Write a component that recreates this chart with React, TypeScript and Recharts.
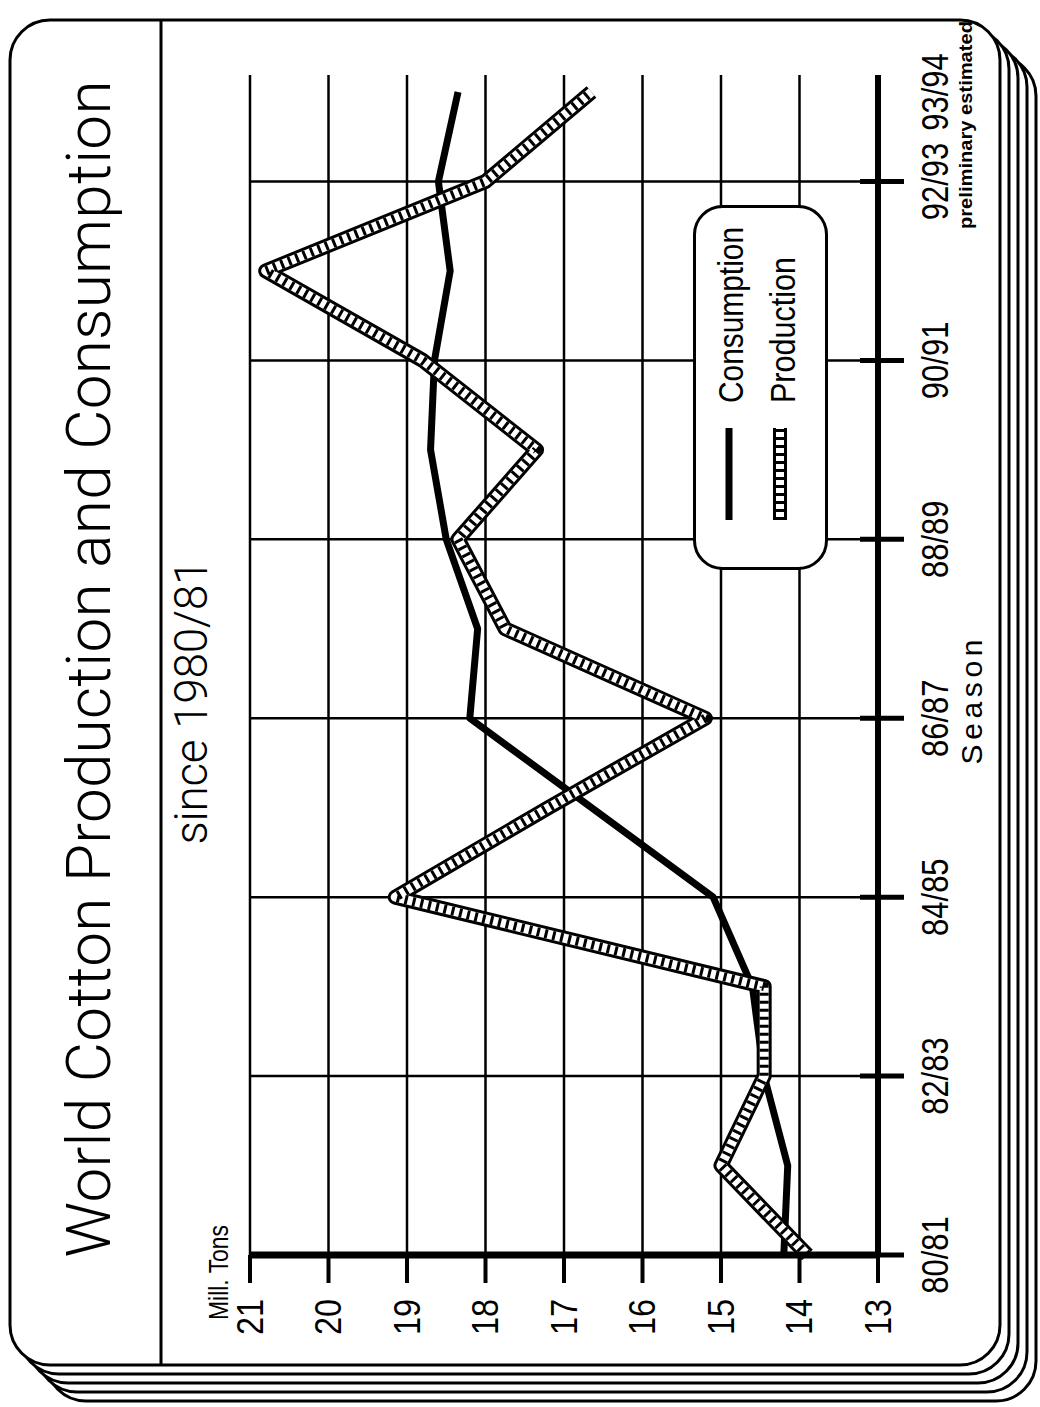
import React from 'react'
import { LineChart, Line, XAxis, YAxis, CartesianGrid, ReferenceLine, Legend } from 'recharts'

// seasons, oldest first
const seasons = [
  '80/81', '81/82', '82/83', '83/84', '84/85', '85/86', '86/87',
  '87/88', '88/89', '89/90', '90/91', '91/92', '92/93', '93/94',
]

// million tons
const consumption = [14.2, 14.15, 14.45, 14.6, 15.1, 16.65, 18.2, 18.1, 18.5, 18.7, 18.65, 18.45, 18.6, 18.35]
const production = [13.9, 15.0, 14.45, 14.45, 19.15, 17.2, 15.2, 17.75, 18.35, 17.35, 18.8, 20.8, 18.0, 16.65]

const valueTicks = [13, 14, 15, 16, 17, 18, 19, 20, 21]
const gridSeasons = ['82/83', '84/85', '86/87', '88/89', '90/91', '92/93']
const tickedSeasons = ['80/81', ...gridSeasons]
const labeledSeasons = [...tickedSeasons, '93/94']

const data = seasons.map((season, i) => ({
  season,
  consumption: consumption[i],
  production: production[i],
}))

// the picture is a landscape chart turned on its side
const W = 1407
const H = 1040
const INK = '#000'
const SANS = "'Liberation Sans', Arial, sans-serif"
const LIGHT = "Roboto, 'Liberation Sans', Arial, sans-serif"

// the scan uses a condensed face, so squeeze regular glyphs to the measured widths
function condensed(text: string, perChar: number) {
  return text.length * perChar
}

function SeasonTick(props: any) {
  const { x, y, payload } = props
  const s = payload.value
  return (
    <g>
      {tickedSeasons.includes(s) && (
        <line x1={x} x2={x} y1={y - 18} y2={y + 26} stroke={INK} strokeWidth={5} />
      )}
      {labeledSeasons.includes(s) && (
        <text x={x} y={y + 70} textAnchor="middle" fontFamily={SANS} fontSize={36} fill={INK}
          textLength={condensed(s, 15.5)} lengthAdjust="spacingAndGlyphs">
          {s}
        </text>
      )}
    </g>
  )
}

function ValueTick(props: any) {
  const { x, y, payload } = props
  const s = String(payload.value)
  return (
    <text x={x} y={y} dy="0.36em" textAnchor="end" fontFamily={SANS} fontSize={36} fill={INK}
      textLength={condensed(s, 18)} lengthAdjust="spacingAndGlyphs">
      {s}
    </text>
  )
}

function ProductionSample({ x1, x2, y }: { x1: number; x2: number; y: number }) {
  const d = `M${x1} ${y} H${x2}`
  return (
    <g>
      <path d={d} stroke={INK} strokeWidth={14} fill="none" />
      <path d={d} stroke="#fff" strokeWidth={8} fill="none" />
      <path d={d} stroke={INK} strokeWidth={8} strokeDasharray="3 5" fill="none" />
    </g>
  )
}

function ChartLegend() {
  return (
    <svg width={440} height={135} style={{ display: 'block', overflow: 'visible' }}>
      <rect x={1.5} y={1.5} width={362} height={132} rx={28} fill="#fff" stroke={INK} strokeWidth={3} />
      <line x1={50} x2={142} y1={36} y2={36} stroke={INK} strokeWidth={7} />
      <text x={167} y={50} fontFamily={SANS} fontSize={35} fill={INK}
        textLength={176} lengthAdjust="spacingAndGlyphs">Consumption</text>
      <ProductionSample x1={50} x2={142} y={87} />
      <text x={167} y={102} fontFamily={SANS} fontSize={35} fill={INK}
        textLength={146} lengthAdjust="spacingAndGlyphs">Production</text>
    </svg>
  )
}

function Frame() {
  const pages = [4, 3, 2, 1]
  return (
    <svg width={W} height={H} style={{ position: 'absolute', left: 0, top: 0 }}>
      {pages.map(k => (
        <rect key={k} x={42 - 9 * k} y={10 + 9 * k} width={1345} height={990} rx={40}
          fill="#fff" stroke={INK} strokeWidth={3} />
      ))}
      <rect x={42} y={10} width={1345} height={990} rx={40} fill="#fff" stroke={INK} strokeWidth={3} />
      <line x1={42} x2={1387} y1={161} y2={161} stroke={INK} strokeWidth={3} />

      <text x={738} y={110} textAnchor="middle" fontFamily={LIGHT} fontWeight={300} fontSize={62}
        textLength={1177} lengthAdjust="spacing" fill={INK}>
        World Cotton Production and Consumption
      </text>
      <text x={705} y={207} textAnchor="middle" fontFamily={LIGHT} fontWeight={300} fontSize={46}
        textLength={285} lengthAdjust="spacing" fill={INK}>
        since 1980/81
      </text>
      <text x={87} y={228} fontFamily={SANS} fontSize={27} fill={INK}
        textLength={95} lengthAdjust="spacingAndGlyphs">Mill. Tons</text>
      <text x={705} y={982} textAnchor="middle" fontFamily={SANS} fontSize={30} fill={INK}
        textLength={125} lengthAdjust="spacing">
        Season
      </text>
      <text x={1282} y={972} textAnchor="middle" fontFamily={SANS} fontWeight="bold" fontSize={18} fill={INK}
        textLength={208} lengthAdjust="spacingAndGlyphs">
        preliminary estimated
      </text>
    </svg>
  )
}

export default function App() {
  return (
    <div style={{ position: 'absolute', left: 0, top: 0, width: H, height: W, overflow: 'hidden', background: '#fff' }}>
      <div
        style={{
          position: 'absolute', left: 0, top: 0, width: W, height: H,
          transform: `translate(0px, ${W}px) rotate(-90deg)`, transformOrigin: '0 0',
        }}
      >
        <Frame />
        <div style={{ position: 'absolute', left: 0, top: 0 }}>
          <LineChart width={W} height={H} data={data} margin={{ top: 250, right: 75, bottom: 42, left: 82 }}>
            <CartesianGrid horizontal vertical={false} stroke={INK} strokeWidth={2.5} />
            {gridSeasons.map(s => (
              <ReferenceLine key={s} x={s} stroke={INK} strokeWidth={2.5} />
            ))}
            <XAxis
              dataKey="season"
              scale="point"
              padding={{ left: 0, right: 17 }}
              interval={0}
              height={120}
              axisLine={{ stroke: INK, strokeWidth: 6 }}
              tickLine={false}
              tickSize={0}
              tickMargin={0}
              tick={<SeasonTick />}
            />
            <YAxis
              type="number"
              domain={[13, 21]}
              ticks={valueTicks}
              interval={0}
              width={70}
              axisLine={{ stroke: INK, strokeWidth: 7 }}
              tickLine={{ stroke: INK, strokeWidth: 4 }}
              tickSize={28}
              tickMargin={16}
              tick={<ValueTick />}
            />
            <Legend
              layout="horizontal"
              verticalAlign="middle"
              align="center"
              content={<ChartLegend />}
              wrapperStyle={{ position: 'absolute', left: 837, top: 693, width: 440, height: 135 }}
            />
            <Line type="linear" dataKey="consumption" stroke={INK} strokeWidth={7} strokeLinejoin="round"
              dot={false} activeDot={false} isAnimationActive={false} />
            <Line type="linear" dataKey="production" stroke={INK} strokeWidth={15} strokeLinejoin="round"
              dot={false} activeDot={false} isAnimationActive={false} />
            <Line type="linear" dataKey="production" stroke="#fff" strokeWidth={9} strokeLinejoin="round"
              dot={false} activeDot={false} isAnimationActive={false} />
            <Line type="linear" dataKey="production" stroke={INK} strokeWidth={9} strokeDasharray="3 5"
              dot={false} activeDot={false} isAnimationActive={false} />
          </LineChart>
        </div>
      </div>
    </div>
  )
}
